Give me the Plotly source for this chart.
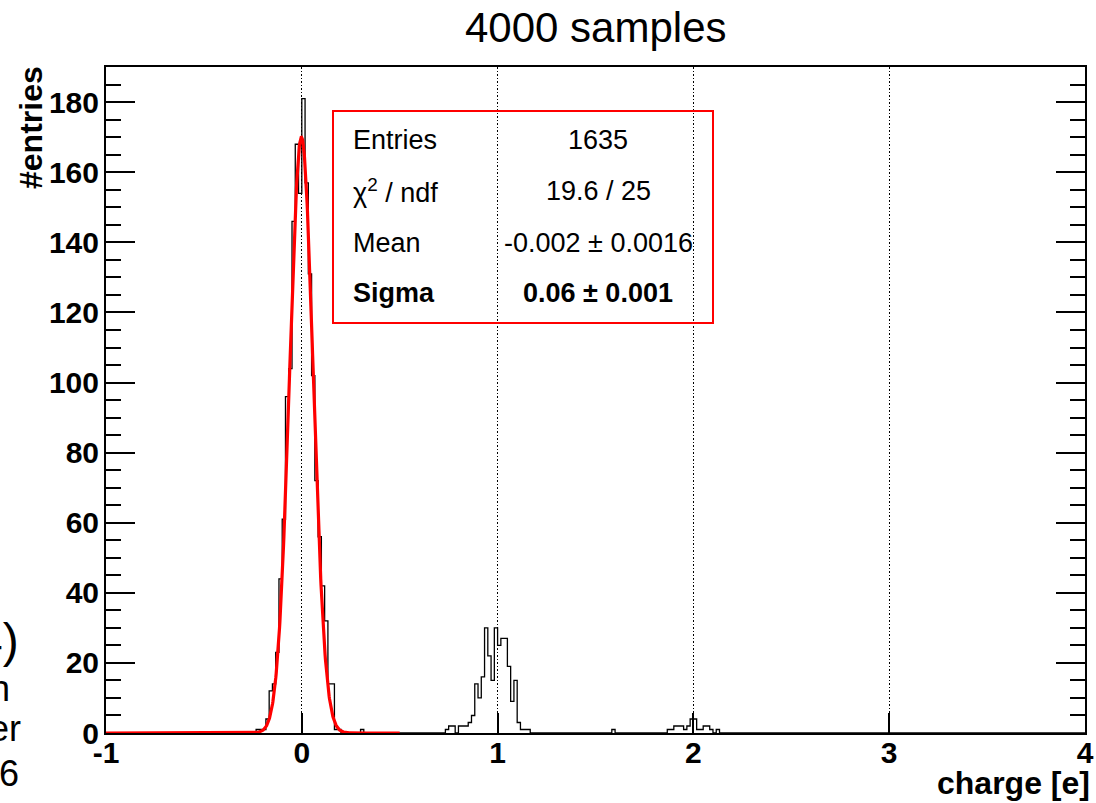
import numpy as np
import plotly.graph_objects as go

# ---------------- data ----------------
X_MIN, X_MAX = -1.0, 4.0
N_BINS = 300
Y_MAX = 190.05

# non-empty histogram bins (bin index from X_MIN, bin width (X_MAX-X_MIN)/N_BINS) and their counts
bin_index = [46, 47, 48, 49, 50, 51, 52, 53, 54, 55, 56, 57, 58, 59, 60, 61, 62, 63, 64, 65,
             66, 67, 68, 69, 70, 71, 78,
             104, 105, 106, 108, 109, 110, 111, 112, 113, 114, 115, 116, 117, 118, 119, 120,
             121, 122, 123, 124, 125, 126, 127, 128, 129,
             155, 172, 173, 174, 175, 176, 177, 178, 179, 180, 181, 182, 183, 184, 185, 187]
bin_count = [1, 1, 1, 4, 12, 14, 23, 44, 61, 96, 104, 146, 168, 154, 181, 157, 131, 102, 72, 56,
             42, 32, 14, 14, 1, 1, 1,
             1, 2, 2, 2, 2, 2, 3, 5, 14, 10, 16, 30, 22, 15, 30, 25,
             27, 27, 19, 9, 15, 3, 1, 1, 1,
             1, 1, 1, 2, 2, 2, 1, 2, 4, 4, 1, 1, 2, 2, 1, 1]

# gaussian fit result
fit_amp = 170.0
fit_mean = -0.002
fit_sigma = 0.06
fit_lo, fit_hi = -1.0, 0.5

title_text = "4000 samples"
x_title = "charge [e]"
y_title = "#entries"
x_tick_vals = [-1, 0, 1, 2, 3, 4]
x_tick_text = ["-1", "0", "1", "2", "3", "4"]
y_tick_vals = [0, 20, 40, 60, 80, 100, 120, 140, 160, 180]
stats_labels = ["Entries", "χ<sup>2</sup> / ndf", "Mean", "<b>Sigma</b>"]
stats_values = ["1635", "19.6 / 25", "-0.002 ± 0.0016", "<b>0.06 ± 0.001</b>"]
side_fragments = ["4)", "n", "er", "6"]

# ---------------- build ----------------
edges = np.linspace(X_MIN, X_MAX, N_BINS + 1)
counts = np.zeros(N_BINS)
counts[np.array(bin_index)] = bin_count
step_y = np.append(counts, counts[-1])

xf = np.linspace(fit_lo, fit_hi, 800)
yf = fit_amp * np.exp(-0.5 * ((xf - fit_mean) / fit_sigma) ** 2)

FONT = "Liberation Sans, Arial, Helvetica, sans-serif"
W, H = 1096, 803
L, R, T, B = 106, 1085, 67, 733  # plot area in pixels


def px(x):
    return (x - L) / (R - L)


def py(y):
    return (B - y) / (B - T)


fig = go.Figure()
fig.add_trace(go.Scatter(x=edges, y=step_y, mode="lines", line=dict(shape="hv", color="black", width=1.3),
                         showlegend=False, hoverinfo="skip"))
fig.add_trace(go.Scatter(x=xf, y=yf, mode="lines", line=dict(color="#ff0000", width=3.2),
                         showlegend=False, hoverinfo="skip"))

annotations = []
annotations.append(dict(text=title_text, xref="paper", yref="paper", x=0.5, y=py(28), xanchor="center",
                        yanchor="middle", showarrow=False, font=dict(family=FONT, size=42, color="black")))
annotations.append(dict(text=x_title, xref="paper", yref="paper", x=px(1092), y=py(783), xanchor="right",
                        yanchor="middle", showarrow=False,
                        font=dict(family=FONT, size=32, color="black", weight="bold")))
annotations.append(dict(text=y_title, xref="paper", yref="paper", x=px(31), y=py(128), xanchor="center",
                        yanchor="middle", textangle=-90, showarrow=False,
                        font=dict(family=FONT, size=32, color="black", weight="bold")))

row_y = [140, 191, 243, 293]
for lab, val, yy in zip(stats_labels, stats_values, row_y):
    annotations.append(dict(text=lab, xref="paper", yref="paper", x=px(351), y=py(yy), xanchor="left",
                            yanchor="middle", showarrow=False, font=dict(family=FONT, size=27, color="black")))
    annotations.append(dict(text=val, xref="paper", yref="paper", x=px(598), y=py(yy), xanchor="center",
                            yanchor="middle", showarrow=False, font=dict(family=FONT, size=27, color="black")))

frag_pos = [(21, 640, 48), (12, 688, 36), (23, 728, 36), (21, 774, 36)]
for t, (xx, yy, sz) in zip(side_fragments, frag_pos):
    annotations.append(dict(text=t, xref="paper", yref="paper", x=px(xx), y=py(yy), xanchor="right",
                            yanchor="middle", showarrow=False, font=dict(family=FONT, size=sz, color="black")))

shapes = [dict(type="rect", xref="paper", yref="paper", x0=px(333), x1=px(713), y0=py(323), y1=py(111),
               line=dict(color="#ff0000", width=2), fillcolor="rgba(0,0,0,0)", layer="above")]

fig.update_layout(
    width=W, height=H,
    margin=dict(l=L, r=W - R, t=T, b=H - B, pad=0),
    plot_bgcolor="white", paper_bgcolor="white",
    annotations=annotations, shapes=shapes,
    showlegend=False,
    xaxis=dict(range=[X_MIN, X_MAX], tickmode="array", tickvals=x_tick_vals, ticktext=x_tick_text,
               ticks="inside", ticklen=20, tickwidth=1.5, tickcolor="black",
               showline=True, linecolor="black", linewidth=2, mirror=True,
               showgrid=True, gridcolor="black", gridwidth=1, griddash="1.5px,2px",
               zeroline=False, ticklabelstandoff=-8, automargin=False,
               tickfont=dict(family=FONT, size=30, color="black", weight="bold")),
    yaxis=dict(range=[0, Y_MAX], tickmode="array", tickvals=y_tick_vals,
               ticks="inside", ticklen=29, tickwidth=1.5, tickcolor="black",
               minor=dict(dtick=5, tick0=0, ticks="inside", ticklen=15, tickwidth=1.5, tickcolor="black",
                          showgrid=False),
               showline=True, linecolor="black", linewidth=2, mirror="ticks",
               showgrid=False, zeroline=False, ticklabelstandoff=-1, automargin=False,
               tickfont=dict(family=FONT, size=30, color="black", weight="bold")),
)

fig.write_html("out.html", config={"displayModeBar": False},
               post_script="document.body.style.margin='0px';document.body.style.padding='0px';")
